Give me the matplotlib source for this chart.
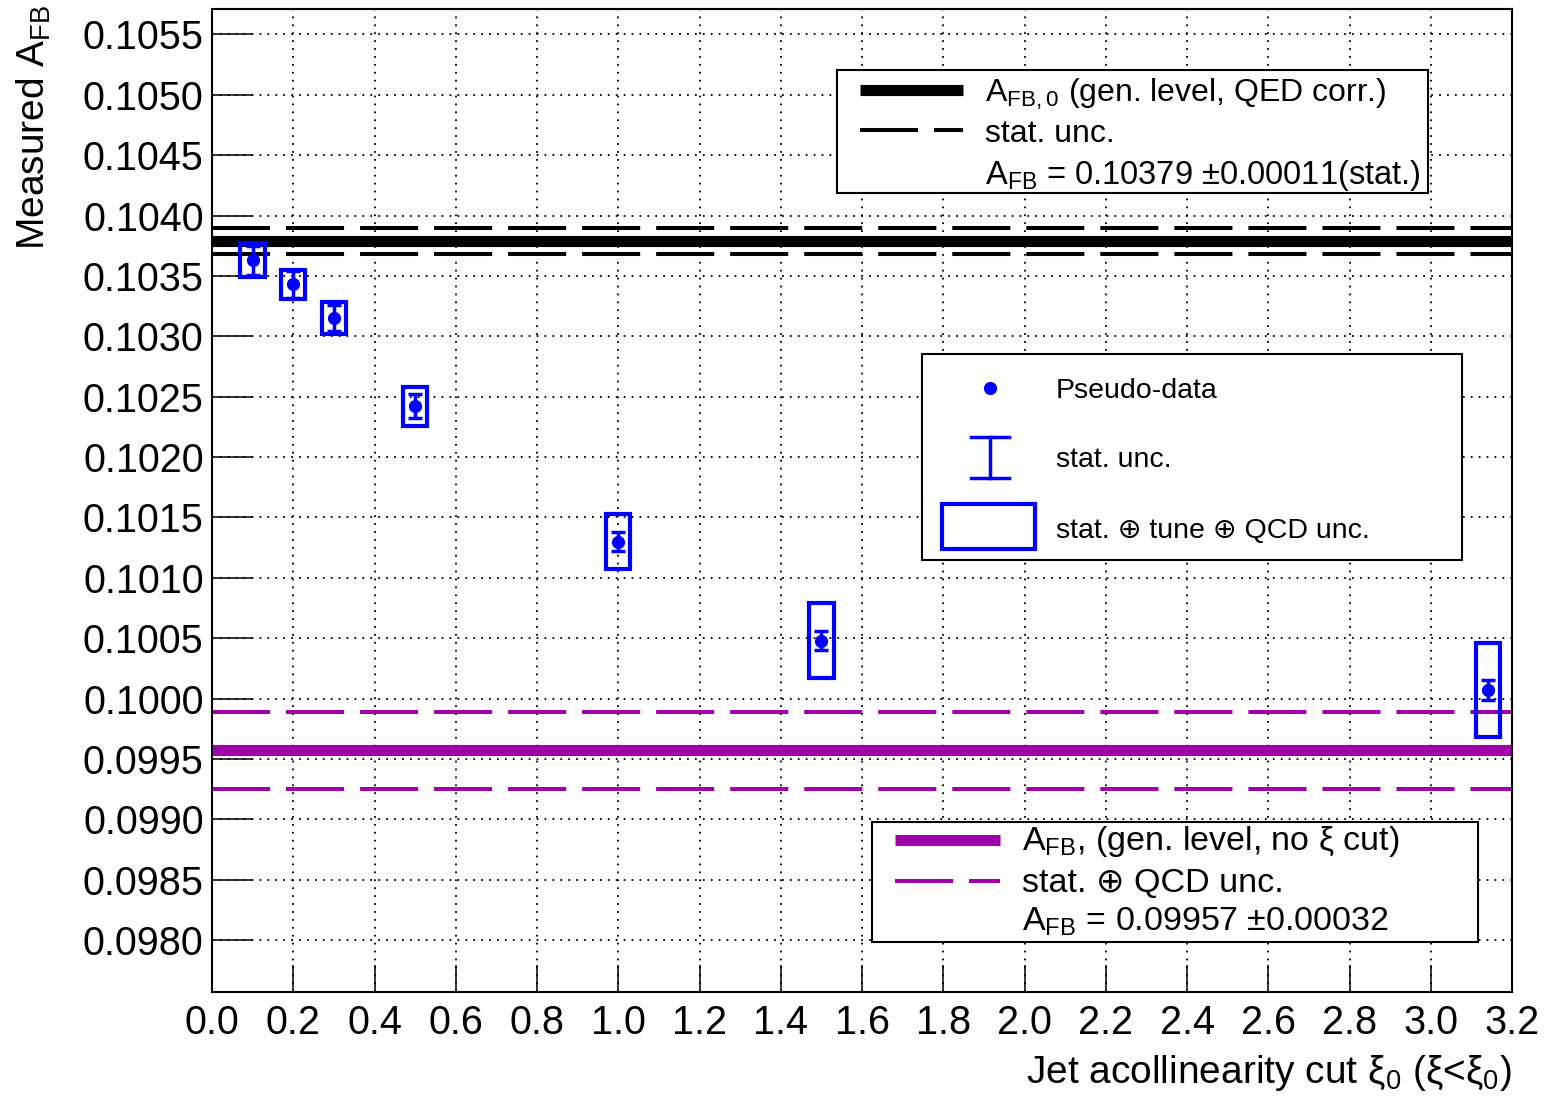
import matplotlib.pyplot as plt
from matplotlib.lines import Line2D
from matplotlib.patches import Rectangle
from matplotlib.ticker import FormatStrFormatter

plt.rcParams['font.family'] = ['Liberation Sans', 'DejaVu Sans']
plt.rcParams['mathtext.fontset'] = 'custom'
plt.rcParams['mathtext.rm'] = 'Liberation Sans'
plt.rcParams['mathtext.default'] = 'regular'
plt.rcParams['lines.scale_dashes'] = False

# measured A_FB for each jet acollinearity cut
xi_cut = [0.1, 0.2, 0.3, 0.5, 1.0, 1.5, 3.14159]
afb = [0.10363, 0.10343, 0.10315, 0.10242, 0.10130, 0.10048, 0.10007]
afb_stat = [0.00012, 0.00011, 0.00011, 0.00010, 0.00008, 0.00008, 0.00008]
afb_total = [0.00014, 0.00012, 0.00013, 0.00016, 0.00023, 0.00031, 0.00039]
box_halfwidth = 0.03

# reference values
afb0 = 0.10379
afb0_stat = 0.00011
afb_nocut = 0.09957
afb_nocut_unc = 0.00032

xticks = [0.0, 0.2, 0.4, 0.6, 0.8, 1.0, 1.2, 1.4, 1.6, 1.8, 2.0, 2.2, 2.4, 2.6, 2.8, 3.0, 3.2]
yticks = [0.0980, 0.0985, 0.0990, 0.0995, 0.1000, 0.1005, 0.1010, 0.1015,
          0.1020, 0.1025, 0.1030, 0.1035, 0.1040, 0.1045, 0.1050, 0.1055]

W, H = 1549, 1106
MAGENTA = '#a000aa'
BLUE = '#0000ff'
DASH = (0, (41.8, 11.5))
DOT = (0, (1.3, 4.4))


def fx(x):
    return x / W


def fy(y):
    return 1 - y / H


fig = plt.figure(figsize=(W / 100, H / 100), dpi=100)
ax = fig.add_axes([fx(212), fy(992), 1300 / W, 983 / H])
ax.set_xlim(0, 3.2)
ax.set_ylim(0.09757, 0.10571)
ax.set_xticks(xticks)
ax.set_yticks(yticks)
ax.xaxis.set_major_formatter(FormatStrFormatter('%.1f'))
ax.yaxis.set_major_formatter(FormatStrFormatter('%.4f'))
ax.tick_params(axis='both', direction='in', labelsize=28.5, width=1.1)
ax.tick_params(axis='y', length=29, pad=6)
ax.tick_params(axis='x', length=19.5, pad=9)
ax.grid(True, color='black', lw=1.3, linestyle=DOT)
for s in ax.spines.values():
    s.set_linewidth(1.5)

# reference lines
ax.axhline(afb0, color='black', lw=8)
ax.axhline(afb0 + afb0_stat, color='black', lw=2.9, linestyle=DASH)
ax.axhline(afb0 - afb0_stat, color='black', lw=2.9, linestyle=DASH)
ax.axhline(afb_nocut, color=MAGENTA, lw=8)
ax.axhline(afb_nocut + afb_nocut_unc, color=MAGENTA, lw=2.9, linestyle=DASH)
ax.axhline(afb_nocut - afb_nocut_unc, color=MAGENTA, lw=2.9, linestyle=DASH)

# total uncertainty boxes and stat error bars
for x, y, t in zip(xi_cut, afb, afb_total):
    ax.add_patch(Rectangle((x - box_halfwidth, y - t), 2 * box_halfwidth, 2 * t,
                           fill=False, ec=BLUE, lw=3, zorder=4))
ax.errorbar(xi_cut, afb, yerr=afb_stat, fmt='o', color=BLUE, ms=8.5,
            elinewidth=2.5, capsize=5, capthick=2.5, zorder=5)

# axis titles
fig.text(fx(34), fy(5), r'Measured A$_{FB}$', rotation=90, ha='center', va='top', fontsize=28)
fig.text(fx(1512), fy(1083), r'Jet acollinearity cut ξ$_{0}$ (ξ<ξ$_{0}$)',
         ha='right', va='baseline', fontsize=28)


def box(x0, y0, x1, y1):
    fig.add_artist(Rectangle((fx(x0), fy(y1)), (x1 - x0) / W, (y1 - y0) / H,
                             transform=fig.transFigure, fc='white', ec='black', lw=1.5))


def hline(x0, x1, y, **kw):
    fig.add_artist(Line2D([fx(x0), fx(x1)], [fy(y), fy(y)], transform=fig.transFigure, **kw))


# upper legend: generator level reference
box(837, 70, 1428, 193)
hline(860, 963, 90, color='black', lw=8, solid_capstyle='butt')
hline(860, 963, 130, color='black', lw=2.9, linestyle=DASH)
fig.text(fx(985), fy(102), r'A$_{FB,0}$ (gen. level, QED corr.)', fontsize=23, va='baseline')
fig.text(fx(985), fy(142), 'stat. unc.', fontsize=23, va='baseline')
fig.text(fx(985), fy(184), r'A$_{FB}$ = 0.10379 ±0.00011(stat.)', fontsize=23.5, va='baseline')

# middle legend: pseudo-data
box(922, 354, 1462, 560)
fig.add_artist(Line2D([fx(990)], [fy(388)], transform=fig.transFigure,
                      marker='o', ms=8.5, color=BLUE, lw=0))
fig.add_artist(Line2D([fx(990), fx(990)], [fy(437), fy(478)], transform=fig.transFigure,
                      color=BLUE, lw=2.5))
hline(971, 1009, 437, color=BLUE, lw=2.5)
hline(971, 1009, 478, color=BLUE, lw=2.5)
fig.add_artist(Rectangle((fx(942), fy(549)), 93 / W, 45 / H, transform=fig.transFigure,
                         fill=False, ec=BLUE, lw=3))
fig.text(fx(1056), fy(398), 'Pseudo-data', fontsize=20.5, va='baseline')
fig.text(fx(1056), fy(467), 'stat. unc.', fontsize=20.5, va='baseline')
fig.text(fx(1056), fy(538), 'stat. ⊕ tune ⊕ QCD unc.', fontsize=20.5, va='baseline')

# lower legend: no acollinearity cut
box(872, 822, 1478, 942)
hline(895, 1000, 840, color=MAGENTA, lw=8, solid_capstyle='butt')
hline(895, 1000, 881, color=MAGENTA, lw=2.9, linestyle=DASH)
fig.text(fx(1022), fy(850), r'A$_{FB}$, (gen. level, no ξ cut)', fontsize=24.5, va='baseline')
fig.text(fx(1022), fy(892), 'stat. ⊕ QCD unc.', fontsize=24.5, va='baseline')
fig.text(fx(1022), fy(931), r'A$_{FB}$ = 0.09957 ±0.00032', fontsize=24.5, va='baseline')

fig.savefig('out.png', dpi=100)
